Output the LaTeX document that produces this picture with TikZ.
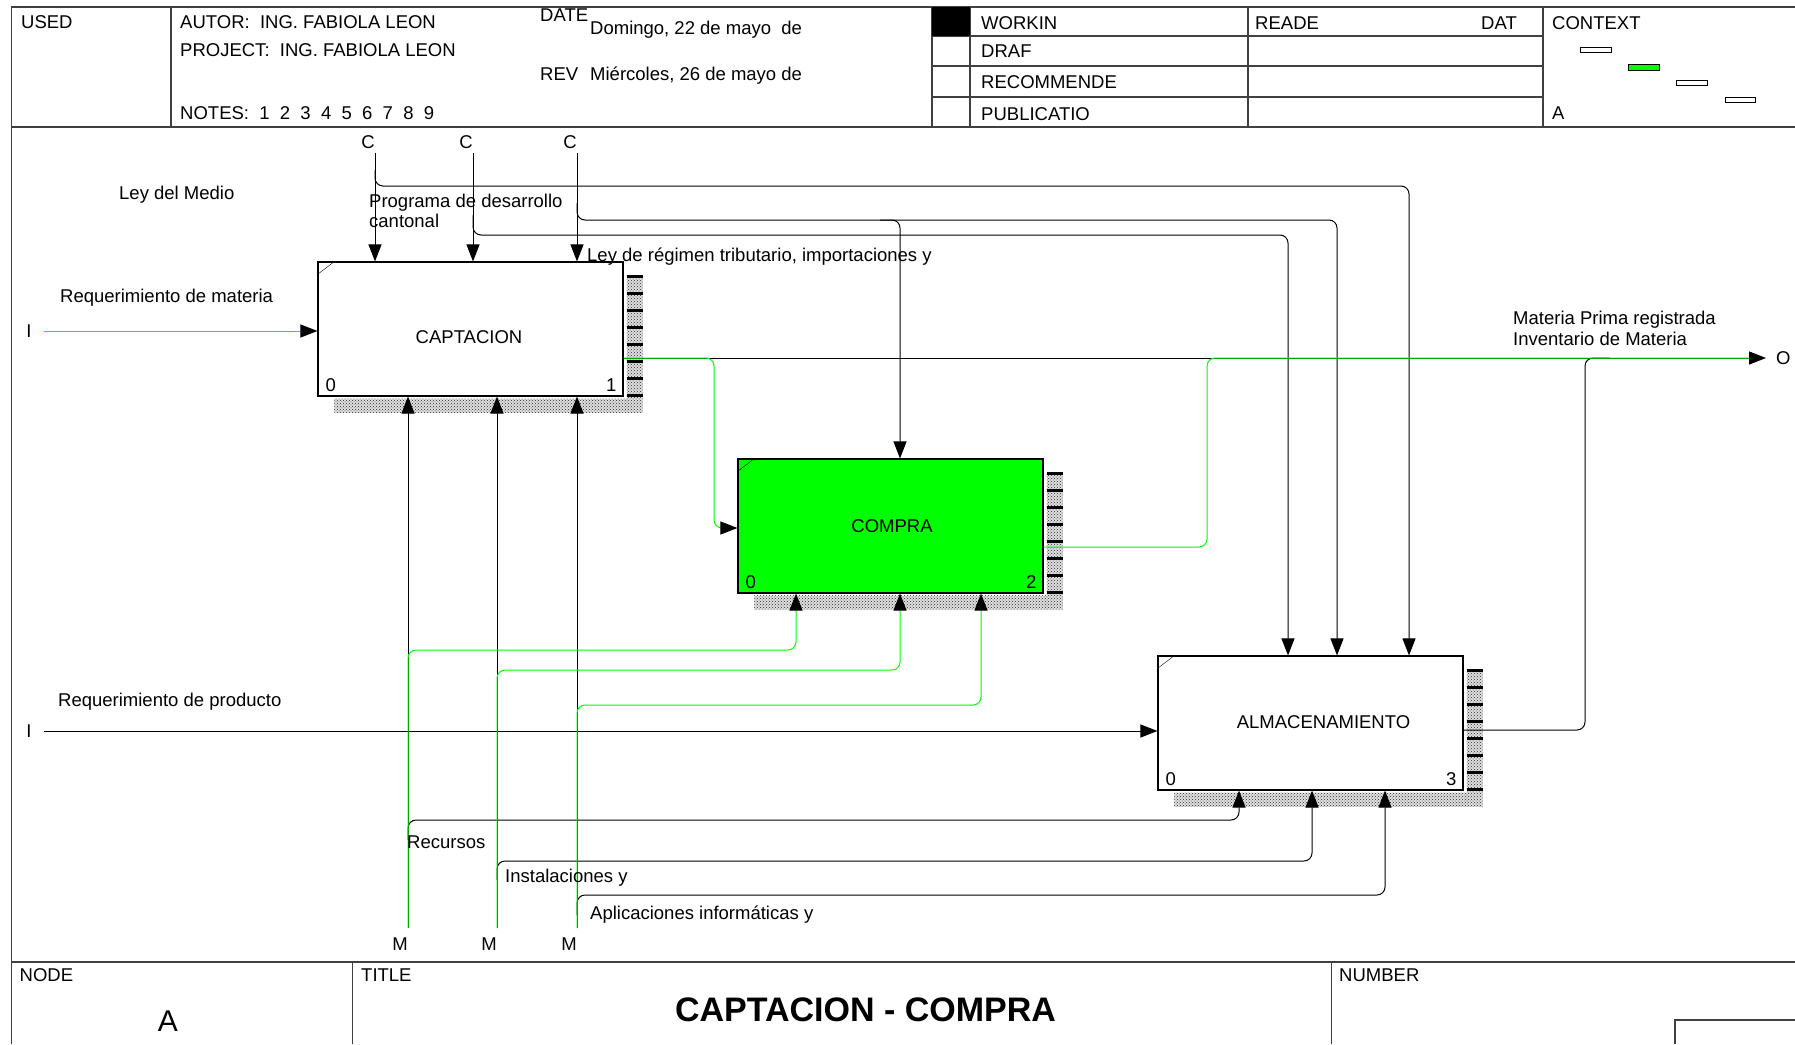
\documentclass[tikz,border=0pt]{standalone}
\usepackage{fontspec}
\setmainfont{Liberation Sans}
\usetikzlibrary{arrows.meta,calc,patterns}

\newcommand\idefshade[1]{%
  \fill[shd] ($(#1.south west)+(17,2)$) rectangle ($(#1.south east)+(19,16)$);
  \fill[shd] ($(#1.north east)+(3,14)$) rectangle ($(#1.south east)+(19,16)$);
  \foreach \k in {0,...,7}
    \draw[line width=3pt] ($(#1.north east)+(3,15+17*\k)$) -- ++(16,0);
}

\begin{document}
\begin{tikzpicture}[x=1pt,y=-1pt,
    txt/.style={font=\fontsize{18.5}{20.5}\selectfont,inner sep=0pt},
    frm/.style={line width=1.5pt,black!75},
    ln/.style={line width=1pt},
    gln/.style={line width=1pt,green},
    arr/.style={-{Triangle[length=17pt,width=13pt,color=black]}},
    rnd/.style={rounded corners=8pt},
    shd/.style={fill=black!12,postaction={pattern=crosshatch dots,pattern color=black!85}},
    fbox/.style={draw,line width=1.1pt,minimum width=305pt,minimum height=134pt,inner sep=0pt}]
\useasboundingbox (0,0) rectangle (1795,1044);

% frame
\draw[frm] (1795,7) -- (11.5,7) -- (11.5,1044);
\draw[frm] (11.5,127) -- (1795,127);
\draw[frm] (11.5,962) -- (1795,962);
\foreach \x in {171,932,970,1248,1543} \draw[frm] (\x,7) -- (\x,127);
\foreach \y in {36,66,97} \draw[frm] (932,\y) -- (1543,\y);
\fill (932,7) rectangle (970,36);
\foreach \x in {352.6,1331.4} \draw[frm] (\x,962) -- (\x,1044);
\draw[frm] (1795,1020) -- (1675,1020) -- (1675,1044);

% header
\node[txt,anchor=base west] (used) at (21,28.5) {USED};
\node[txt,anchor=base west] (autor) at (180,28.5) {AUTOR:\ \ ING. FABIOLA LEON};
\node[txt,anchor=base west] (proj) at (180,56) {PROJECT:\ \ ING. FABIOLA LEON};
\node[txt,anchor=base west] (notes) at (180,119.5) {NOTES:\ \ 1\ \ 2\ \ 3\ \ 4\ \ 5\ \ 6\ \ 7\ \ 8\ \ 9};
\node[txt,anchor=base west] (date) at (540,21.5) {DATE};
\node[txt,anchor=base west] (dom) at (590,34) {Domingo, 22 de mayo\ \ de};
\node[txt,anchor=base west] (rev) at (540,80) {REV};
\node[txt,anchor=base west] (mie) at (590,80) {Miércoles, 26 de mayo de};
\node[txt,anchor=base west] (work) at (981,29.5) {WORKIN};
\node[txt,anchor=base west] (draf) at (981,57.5) {DRAF};
\node[txt,anchor=base west] (reco) at (981,88) {RECOMMENDE};
\node[txt,anchor=base west] (publ) at (981,120) {PUBLICATIO};
\node[txt,anchor=base west] (reade) at (1255,29.5) {READE};
\node[txt,anchor=base west] (dat) at (1481,29.5) {DAT};
\node[txt,anchor=base west] (ctx) at (1552,29.5) {CONTEXT};
\node[txt,anchor=base west] (ctxa) at (1552,119.5) {A};
\draw[line width=1pt] (1580,47.5) rectangle (1611,52.5);
\draw[line width=1pt,fill=green] (1628,64.5) rectangle (1659,70);
\draw[line width=1pt] (1676,80.5) rectangle (1707,85.5);
\draw[line width=1pt] (1725,97.5) rectangle (1755,102.5);

% footer
\node[txt,anchor=base west] (nodel) at (19.5,981) {NODE};
\node[txt,anchor=base west] (titl) at (361,981) {TITLE};
\node[txt,anchor=base west] (numb) at (1339,981) {NUMBER};
\node[inner sep=0pt,anchor=base,font=\fontsize{30}{32}\selectfont] (nodea) at (168,1031) {A};
\node[inner sep=0pt,anchor=base,font=\fontsize{34}{36}\selectfont\bfseries] (title) at (865.5,1021) {CAPTACION - COMPRA};

% activities
\node[fbox,fill=white] (capt) at (470.5,329) {};
\node[fbox,fill=green] (comp) at (890.5,526) {};
\node[fbox,fill=white] (alm) at (1310.5,723) {};
\foreach \b/\n in {capt/1,comp/2,alm/3}{
  \idefshade{\b}
  \draw (\b.north west) ++(0,13) -- ++(17,-13);
  \node[txt,anchor=base west] at ($(\b.south west)+(8,-5)$) {0};
  \node[txt,anchor=base east] at ($(\b.south east)+(-7,-5)$) {\n};
}
\node[txt] (captt) at ($(capt.center)+(-1.5,8)$) {CAPTACION};
\node[txt] (compt) at ($(comp.center)+(1.5,0)$) {COMPRA};
\node[txt] (almt) at ($(alm.center)+(13,-1)$) {ALMACENAMIENTO};

% boundary labels
\node[txt,anchor=base east] (c1) at (375,148) {C};
\node[txt,anchor=base east] (c2) at (473,148) {C};
\node[txt,anchor=base east] (c3) at (577,148) {C};
\node[txt,anchor=base east] (m1) at (408,950) {M};
\node[txt,anchor=base east] (m2) at (497,950) {M};
\node[txt,anchor=base east] (m3) at (577,950) {M};
\node[txt] (i1) at (29,331) {I};
\node[txt] (i2) at (29,731) {I};
\node[txt,anchor=west] (o1) at (1776,358) {O};
\coordinate (c1s) at (375,153);
\coordinate (c2s) at (473,153);
\coordinate (c3s) at (577,153);
\coordinate (m1s) at (408,928);
\coordinate (m2s) at (497,928);
\coordinate (m3s) at (577,928);
\coordinate (i1s) at (43.5,331);
\coordinate (i2s) at (43.5,731);
\coordinate (o1s) at (1766,358);

% controls
\draw[ln,arr] (c1s) -- (c1s |- capt.north);
\draw[ln,arr] (c2s) -- (c2s |- capt.north);
\draw[ln,arr] (c3s) -- (c3s |- capt.north);
\draw[ln,rnd,arr] (375,170) |- (1409,186) -- (1409,0 |- alm.north);
\draw[ln,rnd,arr] (473,215) |- (1288,235) -- (1288,0 |- alm.north);
\draw[ln,rnd,arr] (577,203) |- (1337,220) -- (1337,0 |- alm.north);
\draw[ln,rnd,arr] (880,220) -- (900,220) -- (900,0 |- comp.north);

% inputs and outputs
\draw[gln,arr] (i1s) -- (i1s -| capt.west);
\draw[ln,arr] (i2s) -- (i2s -| alm.west);
\draw[ln,arr] (o1s -| capt.east) -- (o1s);
\draw[ln,rnd] ($(alm.east)+(0,7)$) -- (1585,730) -- (1585,358) -- (1610,358);
\draw[gln,rnd,arr] (o1s -| capt.east) -- (714,358) -- (714,528) -- (714,528 -| comp.west);
\draw[gln,rnd] ($(comp.east)+(0,21)$) -- (1207,547) -- (1207,358) -- (1749,358);

% mechanisms
\draw[ln,arr] (m1s) -- (m1s |- capt.south);
\draw[ln,arr] (m2s) -- (m2s |- capt.south);
\draw[ln,arr] (m3s) -- (m3s |- capt.south);
\draw[ln,rnd,arr] (408,840) |- (1239,820) -- (1239,0 |- alm.south);
\draw[ln,rnd,arr] (497,880) |- (1312,861) -- (1312,0 |- alm.south);
\draw[ln,rnd,arr] (577,915) |- (1385,895) -- (1385,0 |- alm.south);
\draw[gln,rnd,arr] (m1s) -- (408,650) -- (796,650) -- (796,0 |- comp.south);
\draw[gln,rnd,arr] (m2s) -- (497,670) -- (900,670) -- (900,0 |- comp.south);
\draw[gln,rnd,arr] (m3s) -- (577,705) -- (981,705) -- (981,0 |- comp.south);

% arrow labels
\node[txt,anchor=base west] (lmedio) at (119,199) {Ley del Medio};
\node[txt,anchor=base west] (lprog) at (369,207) {Programa de desarrollo};
\node[txt,anchor=base west] (lcant) at (369,227.5) {cantonal};
\node[txt,anchor=base west] (lley) at (587,261) {Ley de régimen tributario, importaciones y};
\node[txt,anchor=base west] (lreqm) at (60,302) {Requerimiento de materia};
\node[txt,anchor=base west] (lreqp) at (58,706) {Requerimiento de producto};
\node[txt,anchor=base west] (lmat) at (1513,324) {Materia Prima registrada};
\node[txt,anchor=base west] (linv) at (1513,345) {Inventario de Materia};
\node[txt,anchor=base west] (lrec) at (407,848) {Recursos};
\node[txt,anchor=base west] (linst) at (505,882) {Instalaciones y};
\node[txt,anchor=base west] (lapl) at (590,919) {Aplicaciones informáticas y};
\end{tikzpicture}
\end{document}
